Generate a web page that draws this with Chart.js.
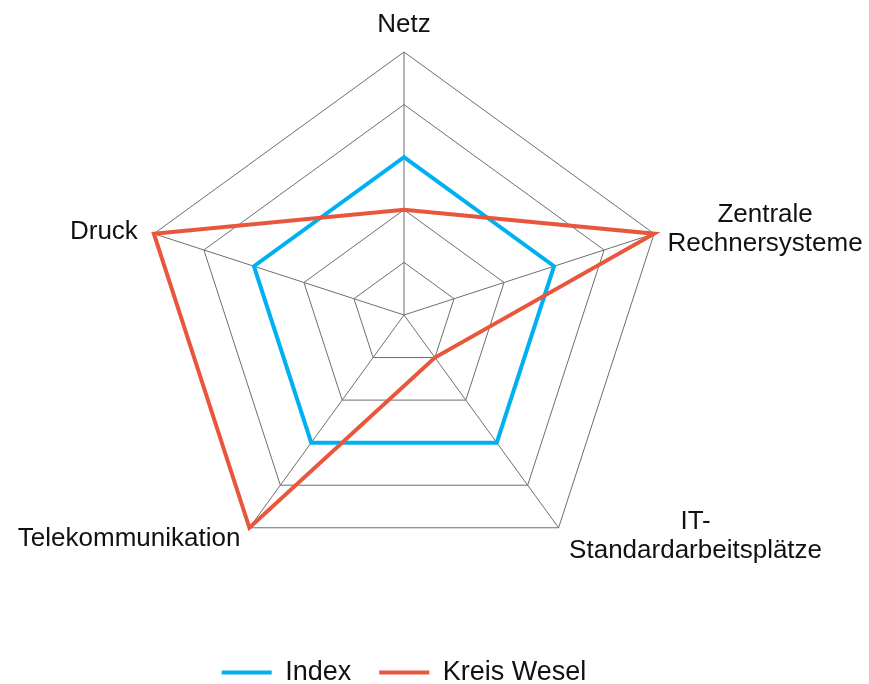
<!DOCTYPE html>
<html lang="de">
<head>
<meta charset="utf-8">
<title>Netz / Index / Kreis Wesel</title>
<script src="https://cdn.jsdelivr.net/npm/chart.js@4/dist/chart.umd.min.js"></script>
<style>
  html, body { margin: 0; padding: 0; background: #fff; }
  #wrap { width: 869px; height: 684px; position: relative; }
</style>
</head>
<body>
<div id="wrap"><canvas id="radar"></canvas></div>
<script>
// --- DATEN ---
const categories = ['Netz', ['Zentrale', 'Rechnersysteme'], ['IT-', 'Standardarbeitsplätze'], 'Telekommunikation', 'Druck'];
const indexValues = [3, 3, 3, 3, 3];
const kreisWeselValues = [2, 5, 1, 5, 5];
const scaleMax = 5;

// Beschriftung der Ecken: Ausrichtung und Versatz zur äußeren Ecke
const labelPlacement = [
  { align: 'center', dx: 0, dy: -20 },
  { align: 'center', dx: 111, dy: -12 },
  { align: 'center', dx: 137, dy: 1 },
  { align: 'right', dx: -9, dy: 18 },
  { align: 'right', dx: -16, dy: 5 }
];

const cornerLabels = {
  id: 'cornerLabels',
  afterDraw(chart) {
    const scale = chart.scales.r;
    const ctx = chart.ctx;
    ctx.save();
    ctx.font = '26px "Liberation Sans", Arial, sans-serif';
    ctx.fillStyle = '#111';
    ctx.textBaseline = 'alphabetic';
    categories.forEach((label, i) => {
      const p = scale.getPointPosition(i, scale.drawingArea);
      const pl = labelPlacement[i];
      const lines = Array.isArray(label) ? label : [label];
      ctx.textAlign = pl.align;
      lines.forEach((line, k) => {
        ctx.fillText(line, p.x + pl.dx, p.y + pl.dy + k * 29);
      });
    });
    ctx.restore();
  }
};

new Chart(document.getElementById('radar'), {
  type: 'radar',
  data: {
    labels: categories,
    datasets: [{
      label: 'Index',
      data: indexValues,
      borderColor: '#00B0F0',
      backgroundColor: '#00B0F0',
      borderWidth: 4,
      pointRadius: 0,
      fill: false,
      order: 1
    }, {
      label: 'Kreis Wesel',
      data: kreisWeselValues,
      borderColor: '#E8573C',
      backgroundColor: '#E8573C',
      borderWidth: 4,
      pointRadius: 0,
      fill: false,
      order: 0
    }]
  },
  options: {
    responsive: true,
    maintainAspectRatio: false,
    animation: false,
    layout: { padding: { left: 141, right: 202, top: 0, bottom: -12 } },
    scales: {
      r: {
        min: 0,
        max: scaleMax,
        ticks: { display: false, stepSize: 1 },
        grid: { color: '#6e6e6e', lineWidth: 1 },
        angleLines: { color: '#6e6e6e', lineWidth: 1 },
        pointLabels: { display: false }
      }
    },
    plugins: {
      tooltip: { enabled: false },
      legend: {
        position: 'bottom',
        labels: {
          usePointStyle: true,
          pointStyle: 'line',
          pointStyleWidth: 50,
          padding: 28,
          color: '#111',
          font: { family: '"Liberation Sans", Arial, sans-serif', size: 27 },
          sort: (a, b) => a.datasetIndex - b.datasetIndex
        }
      }
    }
  },
  plugins: [cornerLabels]
});
</script>
</body>
</html>
